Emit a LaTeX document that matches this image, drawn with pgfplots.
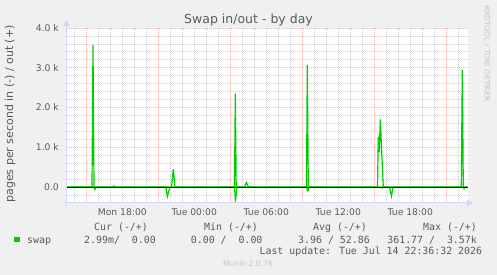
\documentclass[border=0pt]{standalone}
\usepackage{fontspec}
\setmainfont{DejaVu Sans}
\newfontfamily\monofont{DejaVu Sans Mono}
\usepackage{pgfplots}
\pgfplotsset{compat=1.18}
\usetikzlibrary{arrows.meta}
\definecolor{bgc}{HTML}{F0F0F0}
\definecolor{txt}{HTML}{5A5A5A}
\definecolor{axisc}{HTML}{CFD6F8}
\definecolor{mgrid}{HTML}{F0B4B4}
\definecolor{sgrid}{HTML}{CCCCCC}
\definecolor{swapc}{HTML}{00CC00}
\definecolor{wm}{HTML}{C4C4C4}
\begin{document}
\begin{tikzpicture}[x=1pt,y=1pt]
\fill[bgc] (0,0) rectangle (497,275);
\path[use as bounding box] (0,0) rectangle (497,275);
\begin{axis}[
  at={(66.5pt,72pt)}, anchor=south west,
  scale only axis, width=401pt, height=175pt,
  xmin=13.35, xmax=46.767, ymin=-400, ymax=4000,
  axis background/.style={fill=white},
  axis line style={draw=none},
  xtick={18,24,30,36,42},
  xticklabels={Mon 18:00,Tue 00:00,Tue 06:00,Tue 12:00,Tue 18:00},
  minor xtick={14,16,17,18,19,20,22,23,24,25,26,28,29,30,31,32,34,35,36,37,38,40,41,42,43,44,46},
  extra x ticks={15,21,27,33,39,45},
  extra x tick labels={},
  extra x tick style={grid=major, major grid style={mgrid, dash pattern=on 1pt off 1pt, line width=0.8pt}},
  ytick={0,1000,2000,3000,4000},
  yticklabels={0.0,1.0 k,2.0 k,3.0 k,4.0 k},
  minor ytick={-200,200,400,600,800,1200,1400,1600,1800,2200,2400,2600,2800,3200,3400,3600,3800},
  xmajorgrids=false, xminorgrids=true, ymajorgrids=true, yminorgrids=true,
  major grid style={mgrid, dash pattern=on 1pt off 1pt, line width=0.8pt},
  minor grid style={sgrid, dash pattern=on 1pt off 1pt, line width=0.8pt},
  tick style={draw=none},
  ticklabel style={font=\fontsize{9.2}{11}\selectfont, text=txt},
  xticklabel style={anchor=base, inner sep=0pt, yshift=-13pt},
  yticklabel style={anchor=east, inner sep=0pt, xshift=-7.5pt},
]
% swap out (+)
\addplot[swapc, line width=1.2pt] coordinates {
(13.35,0)
(15.475,0) (15.558,3570) (15.642,0)
(17.225,0) (17.308,30) (17.392,0)
(22.1,0) (22.25,450) (22.392,0)
(27.35,0) (27.417,2350) (27.492,0)
(28.183,0) (28.35,115) (28.517,0)
(33.35,0) (33.417,3070) (33.5,0)
(39.267,0) (39.333,1270) (39.417,880) (39.5,1700) (39.75,0)
(46.25,0) (46.333,2950) (46.417,0)
(46.767,0)
};
% swap in (-)
\addplot[swapc, line width=1.2pt] coordinates {
(13.35,0)
(15.642,0) (15.725,-60) (15.808,0)
(21.642,0) (21.75,-243) (21.89,-90) (21.975,0)
(27.35,0) (27.433,-362) (27.558,0)
(33.35,0) (33.433,-90) (33.5,-90) (33.558,0)
(39.6,0) (39.642,-25) (39.7,0)
(40.267,0) (40.433,-230) (40.558,0)
(46.417,0) (46.475,-40) (46.55,0)
(46.767,0)
};
\addplot[black, line width=1pt] coordinates {(13.35,0) (46.767,0)};
\end{axis}
% axis lines with arrows
\draw[axisc, line width=1pt, -{Triangle[width=6pt,length=6pt]}] (66.5,69) -- (66.5,255);
\draw[axisc, line width=1pt, -{Triangle[width=6pt,length=6pt]}] (63.5,72) -- (473,72);
% title and labels
\node[anchor=base, font=\fontsize{12.5}{14}\selectfont, text=txt, inner sep=0pt] at (248.5,251) {Swap in/out - by day};
\node[rotate=90, font=\fontsize{11}{13}\selectfont, text=txt, inner sep=0pt] at (10,161) {pages per second in (-) / out (+)};
\node[rotate=-90, anchor=west, font=\fontsize{7.5}{9}\selectfont, text=wm, inner sep=0pt] at (487,270) {RRDTOOL / TOBI OETIKER};
% legend
\begin{scope}[every node/.style={font=\monofont\fontsize{9.9}{12}\selectfont, text=txt, inner sep=0pt}]
\node[anchor=base west] at (94,44) {Cur (-/+)};
\node[anchor=base west] at (204,44) {Min (-/+)};
\node[anchor=base west] at (313,44) {Avg (-/+)};
\node[anchor=base west] at (423,44) {Max (-/+)};
\fill[swapc] (14,32.7) rectangle (20,38);
\node[anchor=base west] at (27,31.7) {swap};
\node[anchor=base west] at (84,31.7) {2.99m/\ \ 0.00};
\node[anchor=base west] at (190.7,31.7) {0.00 /\ \ 0.00};
\node[anchor=base west] at (298,31.7) {3.96 / 52.86};
\node[anchor=base east] at (477,31.7) {361.77 /\ \ 3.57k};
\node[anchor=base east] at (482.3,20.7) {Last update: Tue Jul 14 22:36:32 2026};
\end{scope}
\node[anchor=base, font=\fontsize{7.6}{9}\selectfont, text=wm, inner sep=0pt] at (248,8.3) {Munin 2.0.76};
\end{tikzpicture}
\end{document}
